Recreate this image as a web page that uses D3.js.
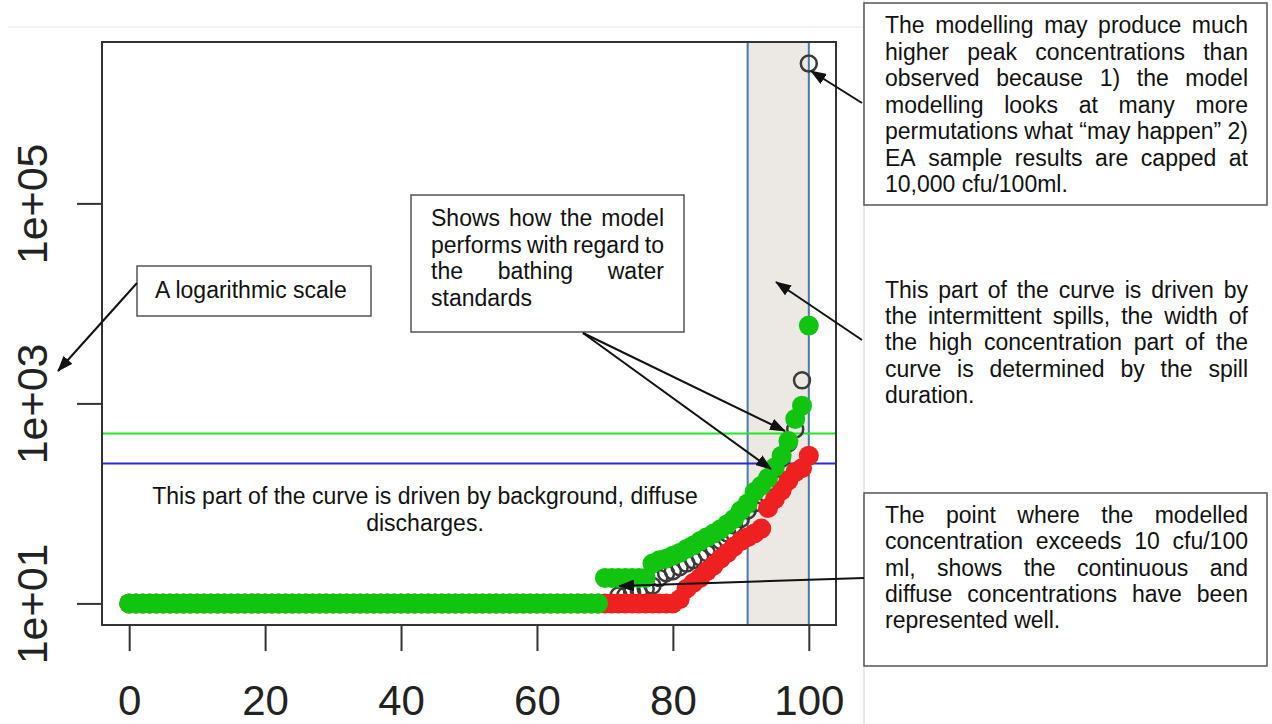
<!DOCTYPE html>
<html>
<head>
<meta charset="utf-8">
<script src="https://cdn.jsdelivr.net/npm/d3@7"></script>
<style>
  body { margin: 0; background: #fff; }
  svg { display: block; font-family: "Liberation Sans", Arial, sans-serif; }
</style>
</head>
<body>
<svg id="chart" width="1272" height="724"></svg>
<script>
// Percentile of time (x) for each sorted concentration value
const percentiles = [
  0,1,2,3,4,5,6,7,8,9,10,11,12,13,14,15,16,17,18,19,20,21,22,23,24,25,26,27,28,29,
  30,31,32,33,34,35,36,37,38,39,40,41,42,43,44,45,46,47,48,49,50,51,52,53,54,55,56,57,58,59,
  60,61,62,63,64,65,66,67,68,69,70,71,72,73,74,75,76,77,78,79,80,81,82,83,84,85,86,87,88,89,
  90,91,92,93,94,95,96,97,98,99,100
];

// Observed sample results (cfu/100ml), open circles
const observedValues = [
  10,10,10,10,10,10,10,10,10,10, 10,10,10,10,10,10,10,10,10,10,
  10,10,10,10,10,10,10,10,10,10, 10,10,10,10,10,10,10,10,10,10,
  10,10,10,10,10,10,10,10,10,10, 10,10,10,10,10,10,10,10,10,10,
  10,10,10,10,10,10,10,10,10,10, 10,10,12,12,13,13,14,15,18,20,
  21,23,25,27,29,32,36,42,50,60, 70,85,100,120,160,220,280,400,550,1700,
  2500000
];

// Modelled concentrations, lower run (red)
const modelRedValues = [
  10,10,10,10,10,10,10,10,10,10, 10,10,10,10,10,10,10,10,10,10,
  10,10,10,10,10,10,10,10,10,10, 10,10,10,10,10,10,10,10,10,10,
  10,10,10,10,10,10,10,10,10,10, 10,10,10,10,10,10,10,10,10,10,
  10,10,10,10,10,10,10,10,10,10, 10,10,10,10,10,10,10,10,10,10,
  10,11,14,16,18,21,24,28,32,37, 42,46,50,56,90,110,135,170,205,225,
  300
];

// Modelled concentrations, upper run (green)
const modelGreenValues = [
  10,10,10,10,10,10,10,10,10,10, 10,10,10,10,10,10,10,10,10,10,
  10,10,10,10,10,10,10,10,10,10, 10,10,10,10,10,10,10,10,10,10,
  10,10,10,10,10,10,10,10,10,10, 10,10,10,10,10,10,10,10,10,10,
  10,10,10,10,10,10,10,10,10,10, 18,18,18,18,18,18,18,25,27,28,
  30,32,35,38,42,46,50,55,62,70, 85,100,130,150,180,230,300,420,700,950,
  6000
];

// Bathing water standards (cfu/100ml)
const standardValues = [500, 250];
const standardColors = ["#22e622", "#2b2bd6"];

// Spill-driven part of the curve (percentiles)
const spillRange = [91, 100];

const xTickValues = [0, 20, 40, 60, 80, 100];
const yTickValues = [10, 1000, 100000];
const yTickLabels = ["1e+01", "1e+03", "1e+05"];

// ---------------------------------------------------------------
const svg = d3.select("#chart");
const plot = { left: 102, right: 836, top: 42, bottom: 625 };

// Page furniture lines
svg.append("line").attr("x1", 8).attr("x2", 864).attr("y1", 27).attr("y2", 27)
  .attr("stroke", "#e2e2e2").attr("stroke-width", 1);
svg.append("line").attr("x1", 864).attr("x2", 864).attr("y1", 0).attr("y2", 724)
  .attr("stroke", "#d4d4d4").attr("stroke-width", 1);

// Scales with the usual 4% padding either side of the data range
const xExt = d3.extent(percentiles);
const xPad = (xExt[1] - xExt[0]) * 0.04;
const x = d3.scaleLinear().domain([xExt[0] - xPad, xExt[1] + xPad])
  .range([plot.left, plot.right]);

const allVals = observedValues.concat(modelRedValues, modelGreenValues);
const lLo = Math.log10(d3.min(allVals)), lHi = Math.log10(d3.max(allVals));
const lPad = (lHi - lLo) * 0.04;
const y = d3.scaleLog().domain([10 ** (lLo - lPad), 10 ** (lHi + lPad)])
  .range([plot.bottom, plot.top]);

// Shaded spill band
svg.append("rect")
  .attr("x", x(spillRange[0])).attr("y", plot.top)
  .attr("width", x(spillRange[1]) - x(spillRange[0]))
  .attr("height", plot.bottom - plot.top)
  .attr("fill", "#ece9e5").attr("stroke", "#4d7aa8").attr("stroke-width", 2);

// Standards
svg.append("g").selectAll("line").data(standardValues).join("line")
  .attr("x1", plot.left).attr("x2", plot.right)
  .attr("y1", d => y(d)).attr("y2", d => y(d))
  .attr("stroke", (d, i) => standardColors[i]).attr("stroke-width", 2);

// Observed open circles
svg.append("g").selectAll("circle").data(percentiles).join("circle")
  .attr("cx", (d) => x(d)).attr("cy", (d, i) => y(observedValues[i]))
  .attr("r", 8).attr("fill", "none").attr("stroke", "#3a3a3a").attr("stroke-width", 2.5);

// Modelled runs
svg.append("g").selectAll("circle").data(percentiles).join("circle")
  .attr("cx", (d) => x(d)).attr("cy", (d, i) => y(modelRedValues[i]))
  .attr("r", 10).attr("fill", "#ee2020");
svg.append("g").selectAll("circle").data(percentiles).join("circle")
  .attr("cx", (d) => x(d)).attr("cy", (d, i) => y(modelGreenValues[i]))
  .attr("r", 10).attr("fill", "#10c410");

// Frame
svg.append("rect").attr("x", plot.left).attr("y", plot.top)
  .attr("width", plot.right - plot.left).attr("height", plot.bottom - plot.top)
  .attr("fill", "none").attr("stroke", "#333").attr("stroke-width", 2);

// Axes
const xAxis = svg.append("g").attr("transform", `translate(0,${plot.bottom})`)
  .call(d3.axisBottom(x).tickValues(xTickValues).tickSize(26).tickPadding(34));
const yAxis = svg.append("g").attr("transform", `translate(${plot.left},0)`)
  .call(d3.axisLeft(y).tickValues(yTickValues).tickSize(25)
    .tickFormat((d, i) => yTickLabels[i]));
[xAxis, yAxis].forEach(a => {
  a.select(".domain").remove();
  a.selectAll(".tick line").attr("stroke", "#333").attr("stroke-width", 2);
  a.selectAll(".tick text").attr("fill", "#222")
    .attr("font-family", "Liberation Sans, Arial, sans-serif");
});
xAxis.selectAll(".tick text").attr("font-size", 42);
yAxis.selectAll(".tick text").attr("font-size", 43)
  .attr("transform", "rotate(-90)").attr("x", 0).attr("y", -55).attr("dy", 0)
  .attr("text-anchor", "middle");

// ---------------------------------------------------------------
// Annotations
const defs = svg.append("defs");
defs.append("marker").attr("id", "head").attr("viewBox", "0 0 16 12")
  .attr("markerWidth", 16).attr("markerHeight", 12).attr("refX", 15).attr("refY", 6)
  .attr("markerUnits", "userSpaceOnUse").attr("orient", "auto")
  .append("path").attr("d", "M0,0 L16,6 L0,12 Z").attr("fill", "#111");

const FS = 23;
function box(x0, y0, x1, y1) {
  svg.append("rect").attr("x", x0).attr("y", y0).attr("width", x1 - x0).attr("height", y1 - y0)
    .attr("fill", "#fff").attr("stroke", "#555").attr("stroke-width", 1.5);
}
function paragraph(lines, x0, x1, base, lh, justify) {
  const g = svg.append("g").attr("font-size", FS).attr("fill", "#111");
  lines.forEach((line, i) => {
    const yy = base + i * lh;
    const words = line.split(/\s+/);
    if (!justify || i === lines.length - 1 || words.length < 2) {
      g.append("text").attr("x", x0).attr("y", yy).text(line);
      return;
    }
    const nodes = words.map(w => g.append("text").attr("y", yy).text(w));
    const widths = nodes.map(n => n.node().getComputedTextLength());
    const gap = (x1 - x0 - d3.sum(widths)) / (words.length - 1);
    let cx = x0;
    nodes.forEach((n, k) => { n.attr("x", cx); cx += widths[k] + gap; });
  });
}
function arrow(x1, y1, x2, y2) {
  svg.append("line").attr("x1", x1).attr("y1", y1).attr("x2", x2).attr("y2", y2)
    .attr("stroke", "#111").attr("stroke-width", 2).attr("marker-end", "url(#head)");
}

// Logarithmic scale note
box(137, 266, 371, 316);
paragraph(["A logarithmic scale"], 155, 350, 298, 27, false);
arrow(137, 283, 58, 371);

// Bathing water standards note
box(411, 195, 684, 332);
paragraph(["Shows how the model", "performs with regard to", "the bathing water", "standards"],
  431, 664, 226, 26.5, true);
arrow(583, 333, 785, 431);
arrow(583, 333, 771, 469);

// Background note
svg.append("g").attr("font-size", FS).attr("fill", "#111").attr("text-anchor", "middle")
  .selectAll("text").data(["This part of the curve is driven by background, diffuse", "discharges."])
  .join("text").attr("x", 425).attr("y", (d, i) => 504 + i * 27).text(d => d);

// Peak concentrations note
box(864, 3, 1267, 205);
paragraph([
  "The modelling may produce much",
  "higher peak concentrations than",
  "observed because 1) the model",
  "modelling looks at many more",
  "permutations what \u201cmay happen\u201d 2)",
  "EA sample results are capped at",
  "10,000 cfu/100ml."
], 885, 1248, 33, 26.5, true);
arrow(862, 103, 811, 71);

// Spill note
paragraph([
  "This part of the curve is driven by",
  "the intermittent spills, the width of",
  "the high concentration part of the",
  "curve is determined by the spill",
  "duration."
], 885, 1248, 298, 26.2, true);
arrow(862, 340, 776, 282);

// Threshold note
box(864, 493, 1267, 666);
paragraph([
  "The point where the modelled",
  "concentration exceeds 10 cfu/100",
  "ml, shows the continuous and",
  "diffuse concentrations have been",
  "represented well."
], 885, 1248, 523, 26.3, true);
arrow(864, 578, 619, 586);
</script>
</body>
</html>
